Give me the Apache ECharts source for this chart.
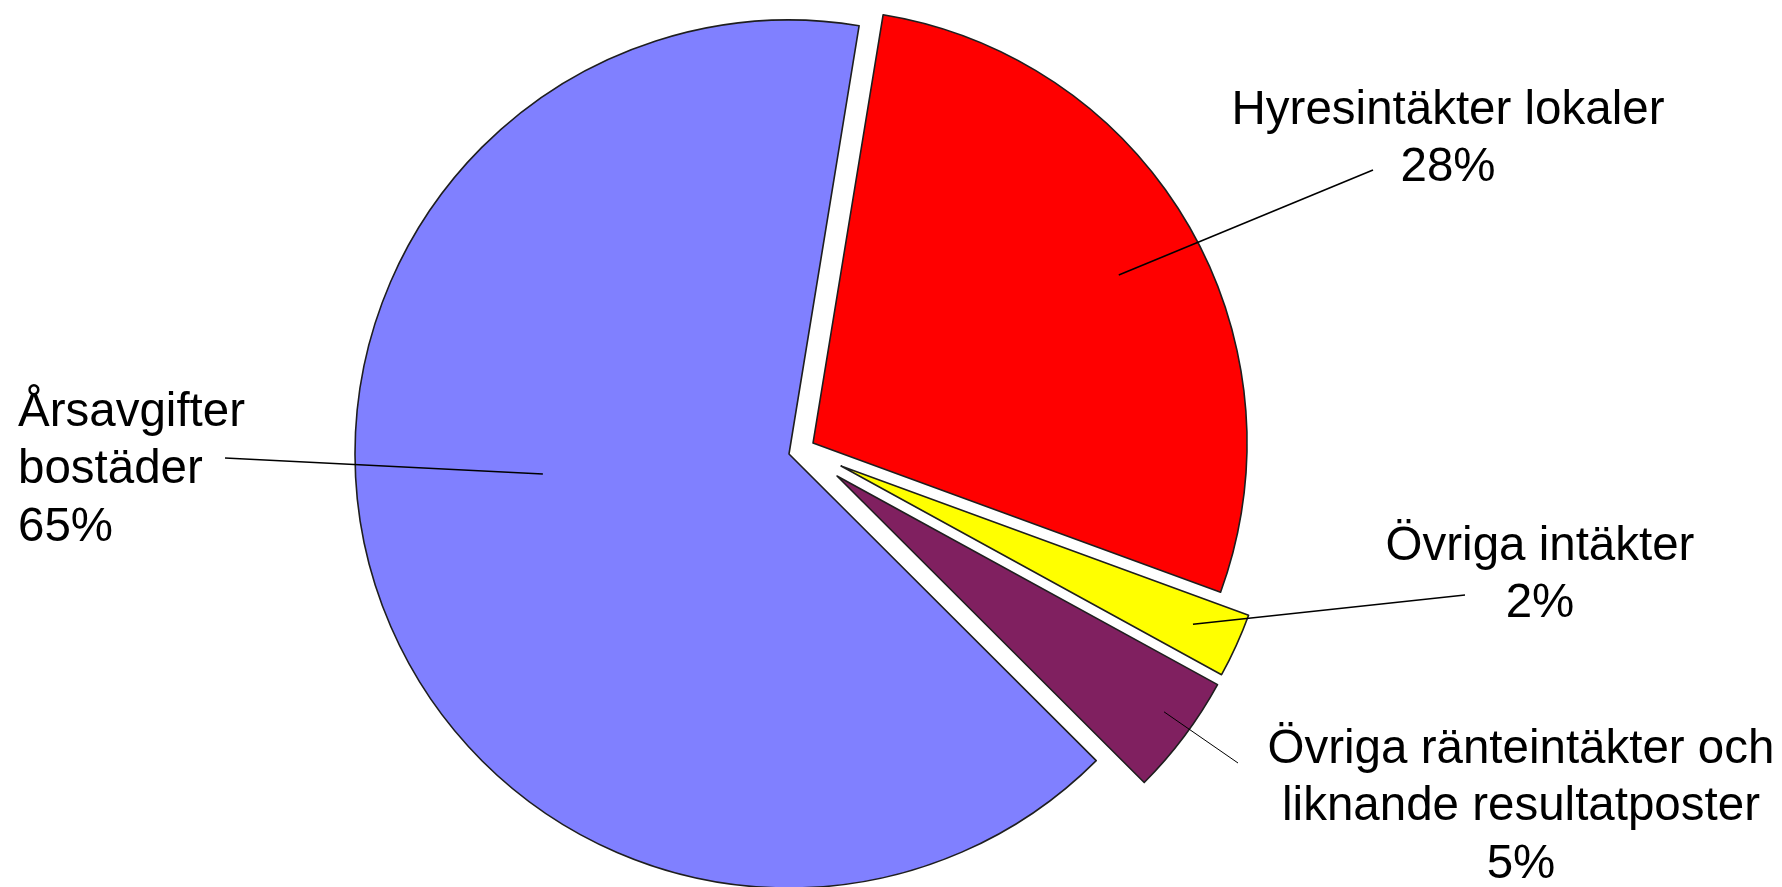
<!DOCTYPE html>
<html>
<head>
<meta charset="utf-8">
<style>
  html, body { margin: 0; padding: 0; background: #ffffff; }
  #chart { width: 1782px; height: 887px; }
</style>
<script src="https://cdn.jsdelivr.net/npm/echarts@6/dist/echarts.min.js"></script>
</head>
<body>
<div id="chart"></div>
<script>
// ---- data (shares of income; labels show rounded %) ----
const categories = ['Hyresintäkter lokaler', 'Övriga intäkter', 'Övriga ränteintäkter och liknande resultatposter', 'Årsavgifter bostäder'];
const labelTexts = ['Hyresintäkter lokaler', 'Övriga intäkter', 'Övriga ränteintäkter och\nliknande resultatposter', 'Årsavgifter\nbostäder'];
const values = [28, 2.4, 4.5, 65.1];

// ---- layout / style ----
const PALETTE = ['#FF0000', '#FFFF00', '#802060', '#8080FF'];
const START_ANGLE = 80.7;          // echarts convention (90 = 12 o'clock)
const BASE_CENTER = [789, 454];
const RADIUS = 434;
// explosion of each slice: distance and direction (deg clockwise from 12 o'clock)
const EXPLODE_DIST = [26.4, 53.4, 52.8, 0];
const EXPLODE_DIR = [65.4, 103, 114.6, 0];
const FONT = { fontFamily: '"Liberation Sans", Arial, Helvetica, sans-serif', fontSize: 47.5, lineHeight: 57.5, color: '#000000' };
const LABEL_LAYOUT = [
  { x: 1448, y: 82,  align: 'center', lead: { deg: 61.2,   f: 0.804 }, end: [1373, 170], w: 1.6 },
  { x: 1540, y: 518, align: 'center', lead: { deg: 114.2,  f: 0.889 }, end: [1465, 595], w: 1.6 },
  { x: 1521, y: 721, align: 'center', lead: { deg: 125.8,  f: 0.929 }, end: [1238, 763], w: 1.0 },
  { x: 18,   y: 384, align: 'left',   lead: { deg: 265.35, f: 0.569 }, end: [225, 458], w: 1.6 }
];

const rad = d => d * Math.PI / 180;
const dirOf = d => [Math.sin(rad(d)), -Math.cos(rad(d))]; // clockwise from 12 o'clock
const centers = values.map((v, i) => {
  const d = dirOf(EXPLODE_DIR[i]);
  return [BASE_CENTER[0] + EXPLODE_DIST[i] * d[0], BASE_CENTER[1] + EXPLODE_DIST[i] * d[1]];
});

const chart = echarts.init(document.getElementById('chart'), null, { renderer: 'canvas' });

const hidden = { itemStyle: { color: 'transparent', borderWidth: 0 }, label: { show: false }, labelLine: { show: false } };

// one series per slice (each exploded by its own offset)
const sliceSeries = categories.map((name, i) => ({
  type: 'pie',
  name: name,
  z: 2,
  center: centers[i],
  radius: RADIUS,
  startAngle: START_ANGLE,
  clockwise: true,
  silent: true,
  animation: false,
  emphasis: { disabled: true },
  itemStyle: { borderColor: '#1e1e1e', borderWidth: 1.6, borderJoin: 'round' },
  label: { show: false },
  labelLine: { show: false },
  data: values.map((v, j) => j === i
    ? { name: categories[j], value: v, itemStyle: { color: PALETTE[j] } }
    : Object.assign({ name: categories[j], value: v }, hidden))
}));

// labels and leader lines on top of every slice
const labelSeries = {
  type: 'pie',
  name: 'labels',
  z: 5,
  center: BASE_CENTER,
  radius: RADIUS,
  startAngle: START_ANGLE,
  clockwise: true,
  percentPrecision: 0,
  avoidLabelOverlap: false,
  silent: true,
  animation: false,
  emphasis: { disabled: true },
  itemStyle: { color: 'transparent', borderWidth: 0 },
  label: Object.assign({
    show: true,
    position: 'outside',
    formatter: p => labelTexts[p.dataIndex] + '\n' + p.percent + '%'
  }, FONT),
  labelLine: { show: true, showAbove: true, lineStyle: { color: '#000000', width: 1.6 } },
  labelLayout: p => {
    const i = p.dataIndex;
    const L = LABEL_LAYOUT[i];
    const d = dirOf(L.lead.deg);
    const inner = [centers[i][0] + RADIUS * L.lead.f * d[0], centers[i][1] + RADIUS * L.lead.f * d[1]];
    return { x: L.x, y: L.y, align: L.align, verticalAlign: 'top', labelLinePoints: [inner, L.end] };
  },
  data: values.map((v, j) => ({
    name: categories[j], value: v,
    labelLine: { lineStyle: { width: LABEL_LAYOUT[j].w } }
  }))
};

chart.setOption({
  backgroundColor: '#ffffff',
  animation: false,
  tooltip: { show: false },
  series: sliceSeries.concat([labelSeries])
});
</script>
</body>
</html>
